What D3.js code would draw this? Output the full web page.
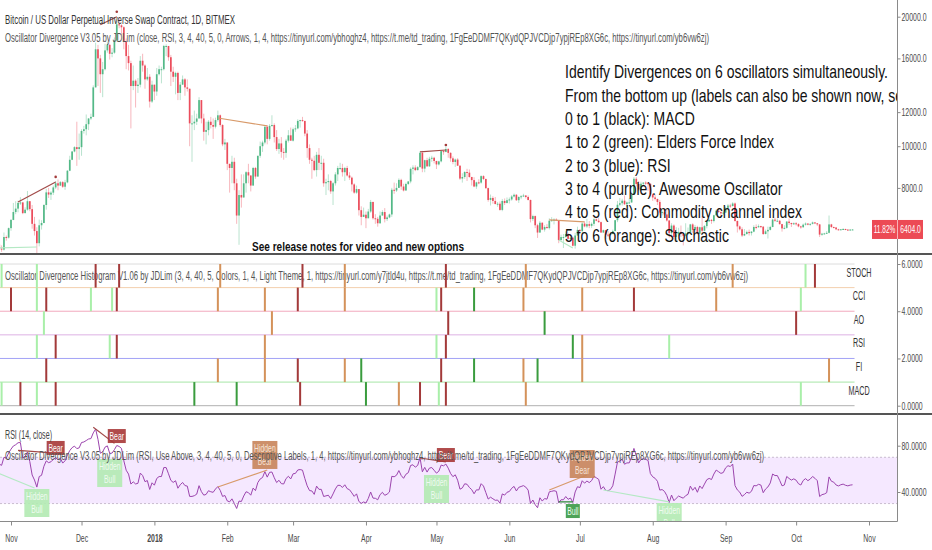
<!DOCTYPE html>
<html>
<head>
<meta charset="utf-8">
<title>XBTUSD - Oscillator Divergence</title>
<script src="https://cdnjs.cloudflare.com/ajax/libs/d3/7.8.5/d3.min.js"></script>
<style>
  body { margin: 0; background: #fff; }
  svg { display: block; font-family: "Liberation Sans", Arial, sans-serif; }
  .axis text { fill: #4a4a4a; }
  .axis line { stroke: #8a8a8a; }
  .axis path { display: none; }
</style>
</head>
<body>
<svg id="chart" width="932" height="550"></svg>
<script>
// ---- data ----
// daily closes from 2017-10-01 (the October 2017 part only warms up the RSI)
const closeStart = "2017-10-01";
const closes = [
  4400,4400,4320,4220,4330,4370,4430,4620,4780,4780,4830,5440,5640,5820,5700,5760,5590,5570,5700,6000,6010,5980,5510,5740,5880,5910,5780,5750,6150,6130,6450, // Oct
  6740,7030,7160,7380,7400,6990,7120,7450,7140,6600,6350,5950,6550,6630,7300,7810,7720,7800,8020,8200,8100,8250,8050,8240,8770,9300,9720,9950,9850,9950, // Nov
  10850,10950,11250,11600,11700,13700,16800,16000,14700,15100,16700,17200,16400,16500,17600,19200,19100,18900,17500,16200,15600,13800,14200,13800,13900,15800,15400,14300,14500,12700,13900, // Dec
  13400,14700,15100,15100,17100,17100,16100,14900,14500,14800,13300,13900,14300,13700,13600,11300,11300,11400,11600,12800,11600,10800,10900,11400,11200,11100,11500,11800,11200,10100,10200, // Jan
  9100,8900,9200,8200,6900,7700,7600,8200,8700,8550,8100,8900,8500,9500,10000,10200,11100,10400,11150,11200,10500,9850,10150,9700,9650,10300,10600,10300, // Feb
  10950,11000,11450,11500,11450,10700,9900,9300,9250,8800,9550,9150,9150,8200,8250,8300,7850,8200,8600,8900,8900,8700,8900,8550,8450,8150,7800,7950,7100,6850,6930, // Mar
  6800,7050,7420,6800,6780,6620,6900,7030,6770,6830,6940,7920,7890,8000,8350,8060,7890,8170,8280,8860,8920,8800,8940,9650,8870,9280,8980,9350,9400,9240, // Apr
  9070,9220,9740,9700,9850,9650,9370,9190,9310,9010,8410,8480,8710,8680,8480,8340,8060,8240,8230,8520,8390,7990,7500,7580,7460,7340,7350,7110,7460,7380,7490, // May
  7520,7640,7710,7490,7620,7650,7680,7620,7500,6770,6880,6550,6300,6640,6400,6490,6450,6710,6730,6750,6720,6050,6150,6150,6250,6090,6130,5870,6200,6390, // Jun
  6350,6610,6510,6590,6530,6600,6760,6710,6660,6300,6380,6230,6220,6250,6350,6730,7310,7370,7470,7330,7400,7400,7720,8400,8170,7930,8180,8230,8210,8180,7730, // Jul
  7600,7540,7420,7010,7030,6940,6720,6280,6540,6150,6240,6320,6250,6190,6270,6310,6580,6390,6490,6260,6480,6360,6520,6690,6740,6700,6910,7080,7030,6980,7010, // Aug
  7190,7280,7260,7360,6700,6510,6410,6200,6250,6320,6280,6330,6490,6480,6520,6500,6250,6340,6390,6490,6750,6710,6710,6590,6440,6460,6680,6630,6590,6620, // Sep
  6590,6510,6480,6570,6610,6570,6600,6650,6620,6580,6230,6260,6270,6290,6580,6490,6470,6410,6390,6410,6420,6400,6390,6400,6404 // Oct
];

// daily highs and lows of the candles shown, from 2017-10-27
const candleStart = "2017-10-27";
const highs = [
  6000,5880,6300,6200,6470,
  6770,7380,7450,7470,7610,7420,7210,7870,7450,7300,6850,6480,6750,6730,7330,7960,8000,7860,8100,8300,8370,8300,8300,8350,8800,9500,9750,10000,11400,10700,
  10950,11150,11850,11620,11900,13850,17400,17200,16300,15700,17300,17500,17300,16900,17900,19500,19900,19200,19000,17800,17200,15800,15400,14300,14400,16200,16400,15500,15200,14700,14200,
  13900,15200,15400,15300,17200,17250,17100,16300,15300,14900,14900,14100,14600,14400,14300,13600,11800,12100,11900,13000,12800,11900,11400,11500,11700,11600,11650,12100,11850,11250,10400,
  10200,9100,9500,9400,8400,7900,8600,8600,8750,9100,8550,8950,8950,9500,10250,10300,11100,11200,11250,11800,11300,10900,10400,10500,9900,10400,10900,11050,
  11050,11200,11550,11520,11700,11450,10900,10100,9400,9500,9700,9900,9500,9350,8400,8600,8350,8250,8700,9000,9150,9100,8950,9000,8700,8500,8200,8100,7950,7250,7200,
  7050,7150,7500,7430,6950,6850,7050,7100,7180,6900,6970,8000,8230,8200,8420,8400,8180,8230,8300,8930,9030,9030,8990,9730,9750,9300,9400,9450,9500,9450,
  9250,9250,9800,9770,9990,9900,9680,9470,9360,9380,9020,8650,8750,8860,8830,8490,8470,8270,8380,8560,8560,8410,8010,7720,7650,7620,7420,7440,7540,7560,7600,
  7600,7700,7760,7740,7650,7700,7750,7700,7680,7510,6930,6900,6600,6700,6650,6550,6590,6800,6840,6800,6800,6730,6230,6250,6340,6290,6180,6160,6290,6500,
  6420,6650,6680,6780,6700,6650,6800,6790,6820,6680,6400,6390,6350,6320,6400,6740,7460,7580,7550,7680,7440,7570,7780,8480,8480,8300,8270,8240,8290,8250,8200,
  7760,7720,7550,7500,7080,7160,7150,6730,6620,6580,6480,6460,6540,6260,6620,6470,6600,6620,6560,6530,6500,6880,6560,6720,6800,6770,6930,7130,7150,7060,7080,
  7240,7340,7350,7410,7400,6720,6540,6480,6420,6370,6400,6350,6550,6580,6580,6530,6520,6400,6500,6530,6780,6820,6790,6730,6600,6550,6700,6790,6640,6650,
  6660,6620,6530,6610,6650,6620,6610,6680,6660,6630,6590,6290,6290,6350,6900,6600,6500,6490,6430,6420,6450,6430,6410,6420,6420
];
const lows = [
  5700,5680,5720,6030,6100,
  6360,6730,6950,7020,7300,6950,6980,7080,7060,6430,6200,5500,5850,6400,6620,7120,7580,7500,7700,7950,7900,8080,8000,7920,8200,8750,9280,9680,9000,9300,
  9500,10700,10600,10900,11500,11700,13700,13800,13300,13000,15000,16500,15900,16100,16400,17500,18800,18100,16800,15100,15000,11000,13500,12300,13300,13700,14900,13600,14200,12300,12600,
  12800,13100,14600,14000,15000,16200,15800,13800,14100,13200,12800,12800,13900,13100,13400,10000,9200,10900,11200,11600,11300,10300,10100,10600,11000,10400,11000,11400,11100,10000,9800,
  8800,7800,8200,7900,6600,5900,7200,7600,7800,8200,7850,8100,8400,8500,9400,9700,10100,10100,10300,11100,10200,9750,9600,9400,9300,9400,10200,10300,
  10250,10800,10950,11050,11400,10550,9400,9100,8400,8750,8500,8800,8800,8050,7700,7900,7750,7300,8100,8300,8800,8500,8300,8500,8350,7850,7750,7750,6900,6550,6850,
  6450,6800,7000,6750,6600,6500,6600,6900,6650,6700,6800,6850,7750,7830,8000,7920,7850,7880,8120,8200,8600,8750,8780,8920,8700,8700,8950,8950,9200,9120,
  8850,9020,9170,9550,9680,9400,9200,9080,8950,9000,8350,8230,8400,8300,8450,8100,8030,7960,8160,8180,8340,7960,7430,7280,7350,7320,7230,7080,7060,7300,7360,
  7360,7470,7600,7460,7380,7530,7630,7560,7480,6650,6700,6450,6120,6290,6380,6330,6440,6400,6680,6580,6700,5950,6030,5800,6130,6070,6020,5850,5780,6200,
  6270,6280,6480,6460,6450,6460,6520,6690,6640,6290,6280,6080,6150,6200,6240,6340,6660,7250,7280,7300,7220,7360,7390,7700,8060,7870,7870,8080,8130,7870,7650,
  7460,7480,7300,6930,6900,6870,6680,6130,6210,6060,6010,6180,6150,5880,6170,6220,6300,6290,6330,6240,6250,6280,6340,6440,6660,6600,6650,6890,6990,6860,6920,
  7000,7150,7190,7240,6680,6300,6370,6150,6180,6230,6200,6200,6310,6410,6470,6450,6220,6240,6100,6370,6480,6670,6680,6570,6330,6410,6430,6560,6490,6560,
  6540,6480,6430,6470,6540,6550,6530,6580,6590,6520,6150,6190,6240,6260,6270,6450,6440,6380,6370,6380,6400,6380,6370,6380,6390
];

const lastPrice = 6404.0;
const lastChange = "11.82%";
const priceTicks = [8000, 10000, 12000, 16000, 20000];
const histTicks = [0, 2, 4, 6];
const rsiTicks = [40, 80];
const rsiBand = [30, 70];
const oscNames = ["MACD", "FI", "RSI", "AO", "CCI", "STOCH"];

// histogram bars per oscillator: [date, kind]
const macdDivs = [["2017-10-28","hbull"],["2017-11-05","bear"],["2017-11-12","hbull"],["2017-11-20","bear"],["2018-01-18","bull"],["2018-02-05","bull"],["2018-03-04","bear"],["2018-04-01","bull"],["2018-04-15","hbear"],["2018-04-24","bear"],["2018-05-02","hbull"],["2018-05-05","bear"],["2018-06-08","hbear"],["2018-10-03","hbull"]];
const fiDivs = [["2017-11-16","bear"],["2018-01-28","hbear"],["2018-02-17","hbear"],["2018-03-03","bear"],["2018-03-23","hbear"],["2018-03-30","bull"],["2018-05-03","bear"],["2018-05-17","bull"],["2018-06-07","hbear"],["2018-06-13","bull"],["2018-07-02","hbear"],["2018-10-15","hbear"]];
const rsiDivs = [["2017-11-12","hbull"],["2017-11-20","bear"],["2017-12-13","hbull"],["2017-12-16","bear"],["2018-02-17","hbear"],["2018-05-01","hbull"],["2018-05-05","bear"],["2018-06-28","bull"],["2018-07-02","hbear"],["2018-08-08","hbull"]];
const aoDivs = [["2017-11-15","hbull"],["2018-02-20","hbear"],["2018-05-06","bear"],["2018-06-16","bull"],["2018-10-01","bear"]];
const cciDivs = [["2017-11-01","bear"],["2017-11-12","hbull"],["2017-11-16","bear"],["2017-12-05","hbull"],["2017-12-14","hbull"],["2017-12-16","bear"],["2018-01-28","hbear"],["2018-02-17","hbear"],["2018-03-03","bear"],["2018-03-23","hbear"],["2018-05-01","hbull"],["2018-05-03","bear"],["2018-05-17","bull"],["2018-06-07","hbear"],["2018-07-02","hbear"],["2018-07-24","bear"],["2018-08-28","hbear"],["2018-10-03","hbull"]];
const stochDivs = [["2017-10-28","hbull"],["2017-11-12","hbull"],["2017-12-07","bear"],["2017-12-17","bear"],["2018-01-29","hbear"],["2018-03-05","bear"],["2018-03-23","hbear"],["2018-05-05","bear"],["2018-06-08","hbear"],["2018-09-04","hbear"],["2018-10-05","hbull"],["2018-10-09","bear"]];

// divergence lines: [date1, value1, date2, value2, kind]
const priceDivLines = [
  ["2017-11-04", 7420, "2017-11-20", 8260, "bear"],
  ["2017-10-27", 5800, "2017-11-12", 5830, "hbull"],
  ["2017-12-09", 19160, "2017-12-16", 20000, "bear"],
  ["2018-01-28", 11630, "2018-02-18", 11150, "hbear"],
  ["2018-04-24", 9700, "2018-05-05", 9800, "bear"],
  ["2018-06-18", 6740, "2018-07-03", 6670, "hbear"],
  ["2018-06-22", 6050, "2018-06-28", 5800, "hbull"]
];
const rsiDivLines = [
  ["2017-11-04", 76, "2017-11-17", 74, "bear"],
  ["2017-12-06", 96, "2017-12-15", 82, "bear"],
  ["2017-10-27", 56, "2017-11-11", 43.5, "hbull"],
  ["2018-01-28", 44.3, "2018-02-18", 59, "hbear"],
  ["2018-04-24", 69.4, "2018-05-05", 66, "bear"],
  ["2018-06-18", 41.7, "2018-07-04", 54.7, "hbear"],
  ["2018-06-22", 31.4, "2018-06-28", 31.4, "bull"],
  ["2018-07-11", 41.7, "2018-08-08", 31.4, "hbull"]
];
// RSI pane labels: [date, anchor value, kind, text]
const rsiLabels = [
  ["2017-11-20", 72, "bear", "Bear"],
  ["2017-12-16", 82.3, "bear", "Bear"],
  ["2017-12-13", 68.5, "hbull", "Hidden\nBull"],
  ["2017-11-12", 42.6, "hbull", "Hidden\nBull"],
  ["2018-02-17", 59.9, "hbear", "Hidden\nBear"],
  ["2018-05-05", 65.9, "bear", "Bear"],
  ["2018-05-01", 54.7, "hbull", "Hidden\nBull"],
  ["2018-07-02", 52.1, "hbear", "Hidden\nBear"],
  ["2018-06-28", 29.6, "bull", "Bull"],
  ["2018-08-08", 30.5, "hbull", "Hidden\nBull"]
];

const titleText = "Bitcoin / US Dollar Perpetual Inverse Swap Contract, 1D, BITMEX";
const studyText = "Oscillator Divergence V3.05 by JDLim (close, RSI, 3, 4, 40, 5, 0, Arrows, 1, 4, https://tinyurl.com/ybhoghz4, https://t.me/td_trading, 1FgEeDDMF7QKydQPJVCDjp7ypjREp8XG6c, https://tinyurl.com/yb6vw6zj)";
const histText = "Oscillator Divergence Histogram V1.06 by JDLim (3, 4, 40, 5, Colors, 1, 4, Light Theme, 1, https://tinyurl.com/y7jtld4u, https://t.me/td_trading, 1FgEeDDMF7QKydQPJVCDjp7ypjREp8XG6c, https://tinyurl.com/yb6vw6zj)";
const rsiTitle = "RSI (14, close)";
const rsiStudyText = "Oscillator Divergence V3.05 by JDLim (RSI, Use Above, 3, 4, 40, 5, 0, Descriptive Labels, 1, 4, https://tinyurl.com/ybhoghz4, https://t.me/td_trading, 1FgEeDDMF7QKydQPJVCDjp7ypjREp8XG6c, https://tinyurl.com/yb6vw6zj)";
const releaseNote = "See release notes for video and new options";
const noteLines = [
  "Identify Divergences on 6 oscillators simultaneously.",
  "From the bottom up (labels can also be shown now, see release notes)",
  "0 to 1 (black): MACD",
  "1 to 2 (green): Elders Force Index",
  "2 to 3 (blue): RSI",
  "3 to 4 (purple): Awesome Oscillator",
  "4 to 5 (red): Commodity channel index",
  "5 to 6 (orange): Stochastic"
];

// ---- drawing ----
const svg = d3.select("#chart");
const parse = d3.utcParse("%Y-%m-%d");
const axisX = 897.5;

const kindColor = { bear: "#a33a3a", hbear: "#d4925a", bull: "#3a9c3e", hbull: "#a9efa9" };
const lineColor = { bear: "#a24a48", hbear: "#d89a6a", bull: "#2e8a38", hbull: "#b4e9c4" };
const boxFill = { bear: "#a83838", hbear: "#c8855a", bull: "#3a9a45", hbull: "#b3ebb3" };
const boxText = { bear: "#fff", hbear: "#f6e2d2", bull: "#eaffea", hbull: "#effcef" };
const bandColors = ["#b0b0b0", "#a6e6a6", "#a2a2f6", "#ddb2e4", "#f2a8bd", "#f3cfae", "#dcdcdc"];

// squeeze text horizontally, the screenshot is narrowed
function squeeze(sel, k) {
  sel.each(function () {
    const w = this.getComputedTextLength();
    d3.select(this).attr("textLength", w * k).attr("lengthAdjust", "spacingAndGlyphs");
  });
}
function fitWidth(sel, w) {
  sel.attr("textLength", w).attr("lengthAdjust", "spacingAndGlyphs");
}

const x = d3.scaleUtc().domain([parse("2017-11-01"), parse("2018-11-01")]).range([11, 869]);
const yPrice = d3.scaleLog().domain([5616, 21870]).range([254, 0]);
const yHist = d3.scaleLinear().domain([0, 6]).range([405.7, 264]);
const yRsi = d3.scaleLinear().domain([40, 80]).range([492, 445.7]);

const defs = svg.append("defs");
defs.append("clipPath").attr("id", "clipMain").append("rect").attr("x", 0).attr("y", 0).attr("width", axisX).attr("height", 253);
defs.append("clipPath").attr("id", "clipRsi").append("rect").attr("x", 0).attr("y", 416).attr("width", axisX).attr("height", 105);

// candles
const kStart = parse(closeStart), cStart = parse(candleStart);
const off = d3.utcDay.count(kStart, cStart);
const candles = highs.map((h, i) => ({
  date: d3.utcDay.offset(cStart, i),
  open: closes[off + i - 1], close: closes[off + i], high: h, low: lows[i]
}));
const lastDate = candles[candles.length - 1].date;

const main = svg.append("g").attr("clip-path", "url(#clipMain)");
main.selectAll("line.wick").data(candles).join("line")
  .attr("x1", d => x(d.date)).attr("x2", d => x(d.date))
  .attr("y1", d => yPrice(d.high)).attr("y2", d => yPrice(d.low))
  .attr("stroke", d => d.close >= d.open ? "#53b987" : "#eb4d5c")
  .attr("stroke-opacity", 0.45).attr("stroke-width", 0.9);
main.selectAll("rect.body").data(candles).join("rect")
  .attr("x", d => x(d.date) - 0.85).attr("width", 1.7)
  .attr("y", d => yPrice(Math.max(d.open, d.close)))
  .attr("height", d => Math.max(1, Math.abs(yPrice(d.open) - yPrice(d.close))))
  .attr("fill", d => d.close >= d.open ? "#53b987" : "#eb4d5c");

main.selectAll("line.pdiv").data(priceDivLines).join("line")
  .attr("x1", d => x(parse(d[0]))).attr("y1", d => yPrice(d[1]))
  .attr("x2", d => x(parse(d[2]))).attr("y2", d => yPrice(d[3]))
  .attr("stroke", d => lineColor[d[4]]).attr("stroke-width", 1.2);
main.selectAll("circle.pdot").data(priceDivLines.filter(d => d[4] === "bear")).join("circle")
  .attr("cx", d => x(parse(d[2]))).attr("cy", d => yPrice(d[3]) - 5).attr("r", 1.3)
  .attr("fill", "#a33a3a");

// price pane texts
svg.append("text").attr("x", 5).attr("y", 24).attr("font-size", 12.5).attr("fill", "#333")
  .text(titleText).call(fitWidth, 230);
svg.append("text").attr("x", 5).attr("y", 42).attr("font-size", 12.5).attr("fill", "#555")
  .text(studyText).call(fitWidth, 704);
svg.append("text").attr("x", 252).attr("y", 251).attr("font-size", 12.5).attr("font-weight", "bold").attr("fill", "#111")
  .text(releaseNote).call(fitWidth, 212);

const note = main.append("g");
const noteTexts = note.selectAll("text").data(noteLines).join("text")
  .attr("x", 565).attr("y", (d, i) => 78.3 + i * 23.33)
  .attr("font-size", 18.6).attr("fill", "#111").text(d => d);
const noteK = 323 / noteTexts.nodes()[0].getComputedTextLength();
noteTexts.call(squeeze, noteK);

// histogram pane
const histG = svg.append("g");
d3.range(0, 7).forEach(i => {
  histG.append("line").attr("x1", 0).attr("x2", x(lastDate) + 2)
    .attr("y1", yHist(i)).attr("y2", yHist(i)).attr("stroke", bandColors[i]).attr("stroke-width", 1);
});
histG.append("text").attr("x", 5).attr("y", 280).attr("font-size", 12.5).attr("fill", "#555")
  .text(histText).call(fitWidth, 743);
[macdDivs, fiDivs, rsiDivs, aoDivs, cciDivs, stochDivs].forEach((divs, i) => {
  histG.selectAll(null).data(divs).join("rect")
    .attr("x", d => x(parse(d[0])) - 1).attr("width", 2)
    .attr("y", yHist(i + 1)).attr("height", yHist(i) - yHist(i + 1))
    .attr("fill", d => kindColor[d[1]]);
});
histG.selectAll("text.osc").data(oscNames).join("text")
  .attr("x", 859).attr("y", (d, i) => yHist(i + 1) + 12.5)
  .attr("text-anchor", "middle").attr("font-size", 12).attr("fill", "#333")
  .text(d => d).call(squeeze, 0.6);

// RSI pane
const rsiG = svg.append("g").attr("clip-path", "url(#clipRsi)");
rsiG.append("rect").attr("x", 0).attr("width", axisX)
  .attr("y", yRsi(rsiBand[1])).attr("height", yRsi(rsiBand[0]) - yRsi(rsiBand[1])).attr("fill", "#f5e8ff");
rsiBand.forEach(v => rsiG.append("line").attr("x1", 0).attr("x2", axisX)
  .attr("y1", yRsi(v)).attr("y2", yRsi(v)).attr("stroke", "#c9bccf").attr("stroke-dasharray", "2,2"));

function wilderRsi(vals, n) {
  const out = vals.map(() => null);
  let g = 0, l = 0;
  for (let i = 1; i <= n; i++) { const d = vals[i] - vals[i - 1]; if (d > 0) g += d; else l -= d; }
  g /= n; l /= n;
  out[n] = 100 - 100 / (1 + g / l);
  for (let i = n + 1; i < vals.length; i++) {
    const d = vals[i] - vals[i - 1];
    g = (g * (n - 1) + Math.max(d, 0)) / n;
    l = (l * (n - 1) + Math.max(-d, 0)) / n;
    out[i] = l === 0 ? 100 : 100 - 100 / (1 + g / l);
  }
  return out;
}
const rsiVals = wilderRsi(closes, 14);
const rsiSeries = candles.map((c, i) => ({ date: c.date, v: rsiVals[off + i] }));
rsiG.append("path").datum(rsiSeries)
  .attr("d", d3.line().x(d => x(d.date)).y(d => yRsi(d.v)))
  .attr("fill", "none").attr("stroke", "#9b44ad").attr("stroke-width", 1);

svg.append("text").attr("x", 5).attr("y", 439).attr("font-size", 12.5).attr("fill", "#444")
  .text(rsiTitle).call(fitWidth, 47);
svg.append("text").attr("x", 5).attr("y", 460).attr("font-size", 12.5).attr("fill", "#555")
  .text(rsiStudyText).call(fitWidth, 759);

rsiG.selectAll("line.rdiv").data(rsiDivLines).join("line")
  .attr("x1", d => x(parse(d[0]))).attr("y1", d => yRsi(d[1]))
  .attr("x2", d => x(parse(d[2]))).attr("y2", d => yRsi(d[3]))
  .attr("stroke", d => lineColor[d[4]]).attr("stroke-width", 1.2);

rsiLabels.forEach(([date, v, kind, txt]) => {
  const lines = txt.split("\n");
  const bw = lines.length > 1 ? 25 : (kind === "bull" ? 14 : 18);
  const bh = lines.length > 1 ? 28 : 14;
  const cx = x(parse(date));
  const top = kind.endsWith("bear") ? yRsi(v) - bh : yRsi(v);
  const g = rsiG.append("g").attr("opacity", 0.9);
  g.append("rect").attr("x", cx - bw / 2).attr("y", top).attr("width", bw).attr("height", bh)
    .attr("fill", boxFill[kind]);
  lines.forEach((ln, j) => {
    g.append("text").attr("x", cx).attr("y", top + 11 + j * 13)
      .attr("text-anchor", "middle").attr("font-size", 11).attr("fill", boxText[kind])
      .text(ln).call(squeeze, 0.62);
  });
});

// frame: separators and axis lines
svg.append("rect").attr("x", 0).attr("y", 253).attr("width", 932).attr("height", 2).attr("fill", "#555");
svg.append("rect").attr("x", 0).attr("y", 413).attr("width", 932).attr("height", 2).attr("fill", "#555");
svg.append("line").attr("x1", axisX).attr("x2", axisX).attr("y1", 0).attr("y2", 521.5).attr("stroke", "#8a8a8a");
svg.append("line").attr("x1", 0).attr("x2", axisX).attr("y1", 521.5).attr("y2", 521.5).attr("stroke", "#8a8a8a");

// right axes
const rightAxis = (scale, ticks, fmt) => d3.axisRight(scale).tickValues(ticks).tickFormat(d3.format(fmt)).tickSize(3).tickPadding(1);
[[yPrice, priceTicks, ".1f"], [yHist, histTicks, ".4f"], [yRsi, rsiTicks, ".4f"]].forEach(([s, t, f]) => {
  const g = svg.append("g").attr("class", "axis").attr("transform", `translate(${axisX},0)`).call(rightAxis(s, t, f));
  g.selectAll("text").attr("font-size", 10.5).call(squeeze, 0.66);
});

// last price marker
const lpY = yPrice(lastPrice);
svg.append("rect").attr("x", 872).attr("y", lpY - 9.5).attr("width", 51).attr("height", 19).attr("fill", "#ec4a55");
svg.append("line").attr("x1", axisX).attr("x2", axisX).attr("y1", lpY - 9.5).attr("y2", lpY + 9.5).attr("stroke", "#f7b3b7");
svg.append("text").attr("x", 884.5).attr("y", lpY + 4).attr("text-anchor", "middle").attr("font-size", 10.5).attr("fill", "#fff")
  .text(lastChange).call(squeeze, 0.62);
svg.append("text").attr("x", 910.5).attr("y", lpY + 4).attr("text-anchor", "middle").attr("font-size", 10.5).attr("fill", "#fff")
  .text(d3.format(".1f")(lastPrice)).call(squeeze, 0.64);

// time axis
const xAxis = d3.axisBottom(x).ticks(d3.utcMonth.every(1)).tickSize(4).tickPadding(8)
  .tickFormat(d => d.getUTCMonth() === 0 ? d3.utcFormat("%Y")(d) : d3.utcFormat("%b")(d));
const xg = svg.append("g").attr("class", "axis").attr("transform", "translate(0,521.5)").call(xAxis);
xg.selectAll("text").attr("font-size", 11.5)
  .attr("font-weight", d => d.getUTCMonth() === 0 ? "bold" : null)
  .call(squeeze, 0.6);
</script>
</body>
</html>
